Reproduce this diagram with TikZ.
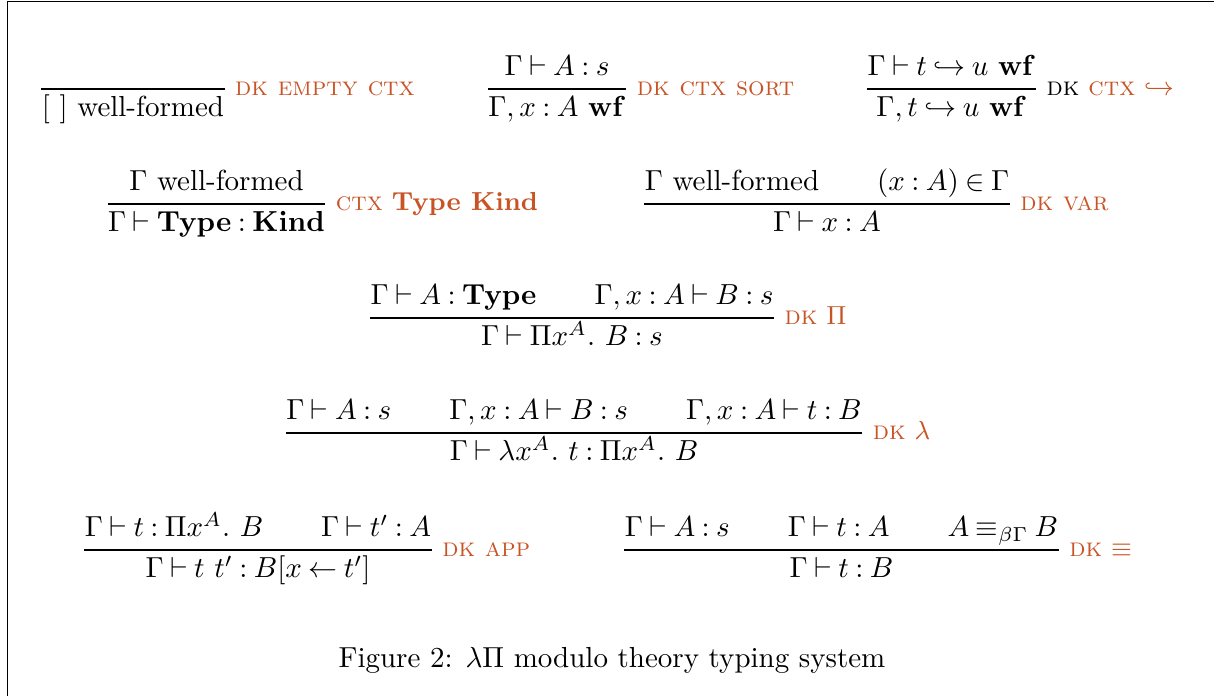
\documentclass[tikz,border=0pt]{standalone}
\usepackage{amsmath,amssymb}
\usetikzlibrary{calc}
\definecolor{rulename}{RGB}{200,84,38}
\tikzset{
  judg/.style={inner sep=0pt, anchor=base},
  infline/.style={line width=0.5pt},
  lbl/.style={inner sep=0pt, anchor=base west, text=rulename, font=\small},
}
\begin{document}
\thickmuskip=4mu
\begin{tikzpicture}[x=0.345pt,y=-0.345pt]
\useasboundingbox (0,0) rectangle (1214,696);
\draw[line width=0.4pt] (7.5,696) -- (7.5,1.5) -- (1214,1.5);

% ---- row 1 (line y = 89)
\node[judg] (c1) at (133,117) {$[\ ]$ well-formed};
\draw[infline] (c1.west |- 0,89) coordinate (l1a) -- (c1.east |- 0,89) coordinate (l1b);
\node[lbl] (n1) at ($(l1b)+(10,7)$) {\textsc{dk empty ctx}};

\node[judg] (p2) at (557,76) {$\Gamma \vdash A : s$};
\node[judg] (c2) at (557,117) {$\Gamma, x : A\ \mathbf{wf}$};
\draw[infline] (c2.west |- 0,89) coordinate (l2a) -- (c2.east |- 0,89) coordinate (l2b);
\node[lbl] (n2) at ($(l2b)+(10,7)$) {\textsc{dk ctx sort}};

\node[judg] (p3) at (951.5,76) {$\Gamma \vdash t \hookrightarrow u\ \mathbf{wf}$};
\node[judg] (c3) at (951.5,117) {$\Gamma, t \hookrightarrow u\ \mathbf{wf}$};
\draw[infline] (p3.west |- 0,89) coordinate (l3a) -- (p3.east |- 0,89) coordinate (l3b);
\node[lbl, text=black] (n3) at ($(l3b)+(10,7)$) {\textsc{dk} \textcolor{rulename}{\textsc{ctx} $\hookrightarrow$}};

% ---- row 2 (line y = 204)
\node[judg] (p4) at (216.5,191) {$\Gamma$ well-formed};
\node[judg] (c4) at (216.5,232) {$\Gamma \vdash \mathbf{Type} : \mathbf{Kind}$};
\draw[infline] (c4.west |- 0,204) coordinate (l4a) -- (c4.east |- 0,204) coordinate (l4b);
\node[lbl] (n4) at ($(l4b)+(10,7)$) {\textsc{ctx} \textbf{Type Kind}};

\node[judg] (p5) at (827,191) {$\Gamma$ well-formed\qquad $(x : A) \in \Gamma$};
\node[judg] (c5) at (827,232) {$\Gamma \vdash x : A$};
\draw[infline] (p5.west |- 0,204) coordinate (l5a) -- (p5.east |- 0,204) coordinate (l5b);
\node[lbl] (n5) at ($(l5b)+(10,7)$) {\textsc{dk var}};

% ---- row 3 (line y = 318)
\node[judg] (p6) at (572,305) {$\Gamma \vdash A : \mathbf{Type} \qquad \Gamma, x : A \vdash B : s$};
\node[judg] (c6) at (572,346) {$\Gamma \vdash \Pi x^{A}.\ B : s$};
\draw[infline] (p6.west |- 0,318) coordinate (l6a) -- (p6.east |- 0,318) coordinate (l6b);
\node[lbl] (n6) at ($(l6b)+(10,7)$) {\textsc{dk} $\Pi$};

% ---- row 4 (line y = 433)
\node[judg] (p7) at (574,420) {$\Gamma \vdash A : s \qquad \Gamma, x : A \vdash B : s \qquad \Gamma, x : A \vdash t : B$};
\node[judg] (c7) at (574,461) {$\Gamma \vdash \lambda x^{A}.\ t : \Pi x^{A}.\ B$};
\draw[infline] (p7.west |- 0,433) coordinate (l7a) -- (p7.east |- 0,433) coordinate (l7b);
\node[lbl] (n7) at ($(l7b)+(10,7)$) {\textsc{dk} $\lambda$};

% ---- row 5 (line y = 550)
\node[judg] (p8) at (258,537) {$\Gamma \vdash t : \Pi x^{A}.\ B \qquad \Gamma \vdash t' : A$};
\node[judg] (c8) at (258,578) {$\Gamma \vdash t\ t' : B[x \leftarrow t']$};
\draw[infline] (p8.west |- 0,550) coordinate (l8a) -- (p8.east |- 0,550) coordinate (l8b);
\node[lbl] (n8) at ($(l8b)+(10,7)$) {\textsc{dk app}};

\node[judg] (p9) at (841.5,537) {$\Gamma \vdash A : s \qquad \Gamma \vdash t : A \qquad A \equiv_{\beta\Gamma} B$};
\node[judg] (c9) at (841.5,578) {$\Gamma \vdash t : B$};
\draw[infline] (p9.west |- 0,550) coordinate (l9a) -- (p9.east |- 0,550) coordinate (l9b);
\node[lbl] (n9) at ($(l9b)+(10,7)$) {\textsc{dk} $\equiv$};

% ---- caption
\node[judg] (cap) at (612,668) {Figure 2: $\lambda\Pi$ modulo theory typing system};
\end{tikzpicture}
\end{document}
